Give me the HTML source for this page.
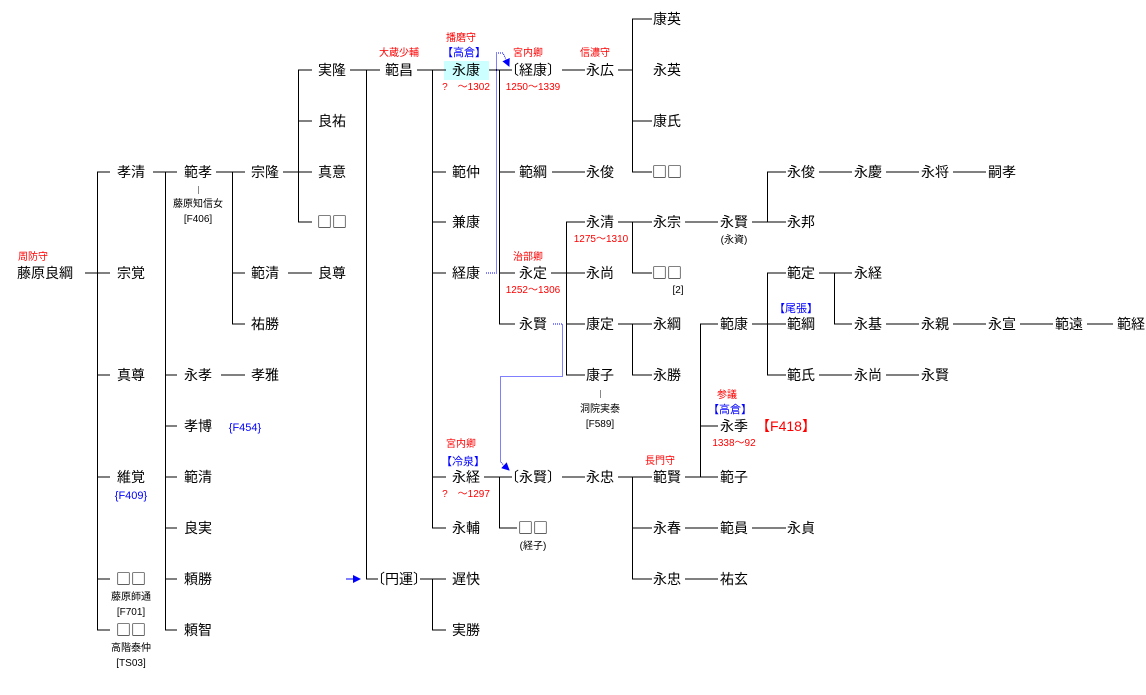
<!DOCTYPE html>
<html><head><meta charset="utf-8"><style>
body{margin:0;background:#fff}
svg{display:block}
text{font-family:"Liberation Sans","Noto Sans CJK JP",sans-serif}
.n{font-size:14px;fill:#000;text-anchor:middle;font-family:"Noto Sans CJK JP",sans-serif}
.r{font-size:10px;fill:#f00;text-anchor:middle}
.b{font-size:11px;fill:#00f;text-anchor:middle}
.s{font-size:10px;fill:#000;text-anchor:middle}
.q{font-family:"Noto Sans CJK JP",sans-serif;font-size:15px}
</style></head><body>
<svg width="1146" height="695" viewBox="0 0 1146 695">
<defs><marker id="a" markerWidth="8" markerHeight="8" refX="7" refY="4" orient="auto" markerUnits="userSpaceOnUse"><path d="M0,0 L8,4 L0,8z" fill="#00f"/></marker></defs>
<rect x="444" y="61" width="45" height="19" fill="#ccffff"/>
<g stroke="#000" stroke-width="1" fill="none">
<path d="M97.5 172V630M85 273H97M97 172H110M97 273H110M97 375H110M97 477H110M97 579H110M97 630H110"/>
<path d="M165.5 172V630M153 172H177M165 375H177M165 426H177M165 477H177M165 528H177M165 579H177M165 630H177"/>
<path d="M232.5 172V324M216 172H245M232 273H245M232 324H245"/>
<path d="M298.5 70V222M283 172H312M298 70H312M298 121H312M298 222H312"/>
<path d="M288 273H312M221 375H245"/>
<path d="M366.5 70V579M350 70H380M366 579H378"/>
<path d="M432.5 70V528M417 70H446M432 172H446M432 222H446M432 273H446M432 477H446M432 528H446"/>
<path d="M499.5 70V324M489 70H512M499 172H515M499 273H515M499 324H515"/>
<path d="M562 70H585M618 70H632M632.5 19V172M632 19H652M632 121H652M632 172H652"/>
<path d="M552 172H585"/>
<path d="M566.5 222V375M551 273H585M566 222H585M566 324H585M566 375H585"/>
<path d="M618 222H652M632.5 222V273M632 273H652"/>
<path d="M685 222H718M752 222H786M767.5 172V222M767 172H786"/>
<path d="M819 172H852M886 172H919M953 172H986"/>
<path d="M618 324H652M632.5 324V375M632 375H652"/>
<path d="M685 477H718M700.5 324V477M700 324H718M700 426H718"/>
<path d="M752 324H786M767.5 273V375M767 273H786M767 375H786"/>
<path d="M819 273H852M834.5 273V324M834 324H852"/>
<path d="M886 324H919M953 324H986M1020 324H1053M1087 324H1113"/>
<path d="M819 375H852M886 375H919"/>
<path d="M484 477H512M499.5 477V528M499 528H517"/>
<path d="M562 477H585M618 477H652M632.5 477V579M632 528H652M632 579H652"/>
<path d="M685 528H718M752 528H786M685 579H718"/>
<path d="M420 579H446M432.5 579V630M432 630H446"/>
</g>
<g stroke="#888" stroke-width="1"><path d="M198.5 186V194M600.5 390V398"/></g>
<g stroke="#00f" stroke-width="1" stroke-dasharray="1,1" fill="none">
<path d="M486 273H496.5V53H503L509 66" marker-end="url(#a)"/>
<path d="M553 324H562.5V376.5H500.5V462L509 470" marker-end="url(#a)"/>
</g>
<path d="M346 579H360" stroke="#00f" marker-end="url(#a)"/>
<g class="n">
<text x="45" y="278">藤原良綱</text>
<text x="131" y="177">孝清</text><text x="131" y="278">宗覚</text><text x="131" y="380">真尊</text><text x="131" y="482">維覚</text><text x="131" y="584" class="q">□□</text><text x="131" y="635" class="q">□□</text>
<text x="198" y="177">範孝</text><text x="198" y="380">永孝</text><text x="198" y="431">孝博</text><text x="198" y="482">範清</text><text x="198" y="533">良実</text><text x="198" y="584">頼勝</text><text x="198" y="635">頼智</text>
<text x="265" y="177">宗隆</text><text x="265" y="278">範清</text><text x="265" y="329">祐勝</text><text x="265" y="380">孝雅</text>
<text x="332" y="75">実隆</text><text x="332" y="126">良祐</text><text x="332" y="177">真意</text><text x="332" y="227" class="q">□□</text><text x="332" y="278">良尊</text>
<text x="399" y="75">範昌</text><text x="399" y="584">〔円運〕</text>
<text x="466" y="75">永康</text><text x="466" y="177">範仲</text><text x="466" y="227">兼康</text><text x="466" y="278">経康</text><text x="466" y="482">永経</text><text x="466" y="533">永輔</text><text x="466" y="584">遅快</text><text x="466" y="635">実勝</text>
<text x="533" y="75">〔経康〕</text><text x="533" y="177">範綱</text><text x="533" y="278">永定</text><text x="533" y="329">永賢</text><text x="533" y="482">〔永賢〕</text><text x="533" y="533" class="q">□□</text>
<text x="600" y="75">永広</text><text x="600" y="177">永俊</text><text x="600" y="227">永清</text><text x="600" y="278">永尚</text><text x="600" y="329">康定</text><text x="600" y="380">康子</text><text x="600" y="482">永忠</text>
<text x="667" y="24">康英</text><text x="667" y="75">永英</text><text x="667" y="126">康氏</text><text x="667" y="177" class="q">□□</text><text x="667" y="227">永宗</text><text x="667" y="278" class="q">□□</text><text x="667" y="329">永綱</text><text x="667" y="380">永勝</text><text x="667" y="482">範賢</text><text x="667" y="533">永春</text><text x="667" y="584">永忠</text>
<text x="734" y="227">永賢</text><text x="734" y="329">範康</text><text x="734" y="431">永季</text><text x="734" y="482">範子</text><text x="734" y="533">範員</text><text x="734" y="584">祐玄</text>
<text x="801" y="177">永俊</text><text x="801" y="227">永邦</text><text x="801" y="278">範定</text><text x="801" y="329">範綱</text><text x="801" y="380">範氏</text><text x="801" y="533">永貞</text>
<text x="868" y="177">永慶</text><text x="868" y="278">永経</text><text x="868" y="329">永基</text><text x="868" y="380">永尚</text>
<text x="935" y="177">永将</text><text x="935" y="329">永親</text><text x="935" y="380">永賢</text>
<text x="1002" y="177">嗣孝</text><text x="1002" y="329">永宣</text>
<text x="1069" y="329">範遠</text><text x="1131" y="329">範経</text>
</g>
<g class="r">
<text x="33" y="260">周防守</text><text x="399" y="56">大蔵少輔</text><text x="461" y="41">播磨守</text><text x="466" y="90">?　〜1302</text>
<text x="528" y="56">宮内卿</text><text x="533" y="90">1250〜1339</text><text x="595" y="56">信濃守</text>
<text x="601" y="242">1275〜1310</text><text x="528" y="260">治部卿</text><text x="533" y="293">1252〜1306</text>
<text x="727" y="398">参議</text><text x="734" y="446">1338〜92</text><text x="660" y="464">長門守</text>
<text x="461" y="447">宮内卿</text><text x="466" y="497">?　〜1297</text>
<text x="786" y="431" style="font-size:14px">【F418】</text>
</g>
<g class="b">
<text x="464" y="56">【高倉】</text><text x="463" y="465">【冷泉】</text><text x="730" y="413">【高倉】</text><text x="796" y="312">【尾張】</text>
<text x="131" y="499">{F409}</text><text x="245" y="431">{F454}</text>
</g>
<g class="s">
<text x="198" y="207">藤原知信女</text><text x="198" y="222">[F406]</text>
<text x="131" y="600">藤原師通</text><text x="131" y="615">[F701]</text>
<text x="131" y="651">高階泰仲</text><text x="131" y="666">[TS03]</text>
<text x="600" y="412">洞院実泰</text><text x="600" y="427">[F589]</text>
<text x="678" y="293">[2]</text><text x="734" y="243">(永資)</text><text x="533" y="549">(経子)</text>
</g>
</svg>
</body></html>
